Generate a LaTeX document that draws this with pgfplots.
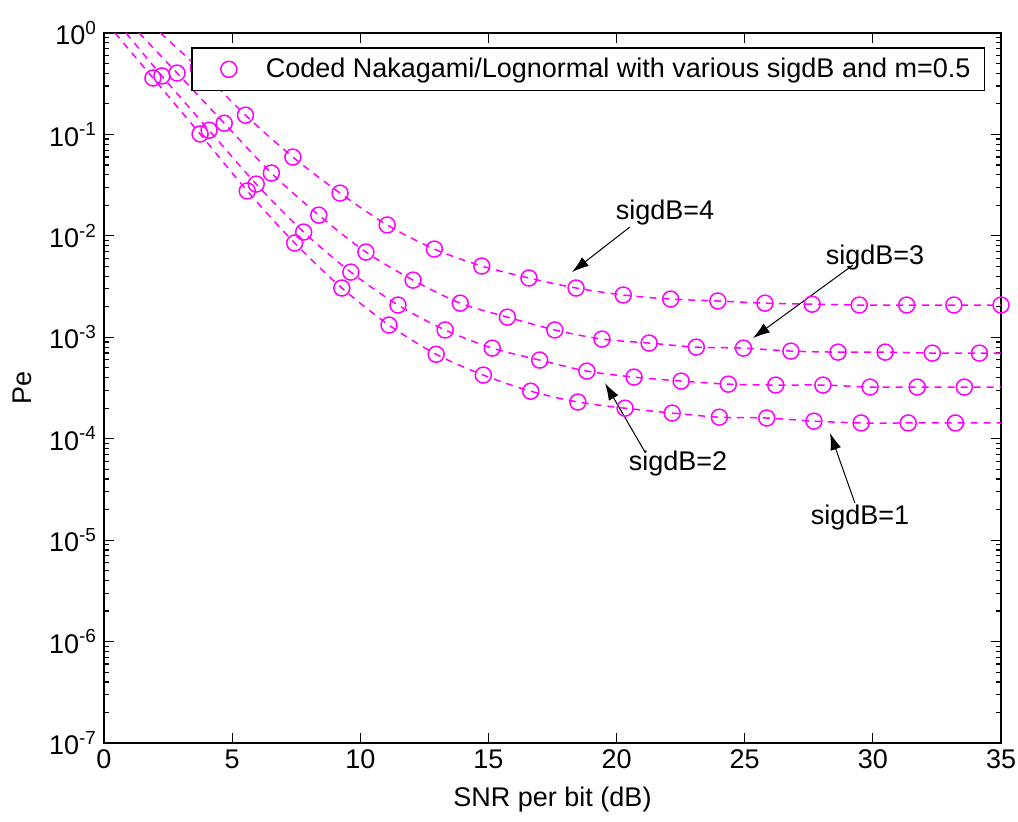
\documentclass[border=0pt]{standalone}
\usepackage{pgfplots}
\pgfplotsset{compat=1.18}
\usepackage{fontspec}
\setmainfont{Liberation Sans}
\usetikzlibrary{arrows.meta}
\definecolor{mag}{RGB}{255,0,255}

\pgfplotstableread{
x y
0.43 1.0
1.91 0.360
3.75 0.101
5.59 0.0277
7.44 8.5e-3
9.28 3.06e-3
11.12 1.32e-3
12.96 6.8e-4
14.80 4.24e-4
16.65 2.94e-4
18.49 2.30e-4
20.33 2.00e-4
22.17 1.79e-4
24.01 1.63e-4
25.86 1.60e-4
27.70 1.49e-4
29.54 1.43e-4
31.38 1.43e-4
33.22 1.43e-4
35.00 1.43e-4
}\sigone

\pgfplotstableread{
x y
0.86 1.0
2.26 0.377
4.10 0.110
5.94 0.0324
7.79 0.0109
9.63 4.39e-3
11.47 2.08e-3
13.31 1.18e-3
15.15 7.82e-4
17.00 5.96e-4
18.84 4.64e-4
20.68 4.05e-4
22.52 3.70e-4
24.36 3.45e-4
26.21 3.38e-4
28.05 3.38e-4
29.89 3.23e-4
31.73 3.23e-4
33.57 3.23e-4
35.00 3.23e-4
}\sigtwo

\pgfplotstableread{
x y
1.37 1.0
2.85 0.403
4.69 0.129
6.53 0.0416
8.38 0.0160
10.22 6.92e-3
12.06 3.66e-3
13.90 2.17e-3
15.74 1.58e-3
17.59 1.18e-3
19.43 9.6e-4
21.27 8.77e-4
23.11 8.0e-4
24.95 7.82e-4
26.80 7.31e-4
28.64 7.14e-4
30.48 7.14e-4
32.32 6.98e-4
34.16 6.98e-4
35.00 6.98e-4
}\sigthree

\pgfplotstableread{
x y
2.20 1.0
3.68 0.452
5.52 0.155
7.37 0.0598
9.21 0.0264
11.05 0.0128
12.89 7.41e-3
14.74 5.04e-3
16.58 3.84e-3
18.42 3.06e-3
20.26 2.61e-3
22.11 2.38e-3
23.95 2.28e-3
25.79 2.17e-3
27.63 2.12e-3
29.47 2.08e-3
31.32 2.08e-3
33.16 2.08e-3
35.00 2.08e-3
}\sigfour

\pgfplotsset{log number format basis/.code 2 args={#1\textsuperscript{\pgfmathprintnumber{#2}}}}

\begin{document}
\begin{tikzpicture}
\begin{axis}[
  scale only axis, width=448.5pt, height=355pt,
  ymode=log, xmin=0, xmax=35, ymin=1e-7, ymax=1,
  xtick={0,5,...,35},
  /pgf/number format/assume math mode=true,
  tick align=inside, major tick length=5pt, minor tick length=2.5pt,
  axis line style={line width=0.8pt},
  every tick/.style={black, line width=0.6pt},
  ticklabel style={font=\fontsize{13.5}{16}\selectfont},
  label style={font=\fontsize{13.5}{16}\selectfont},
  xlabel={SNR per bit (dB)}, ylabel={Pe},
  xlabel style={at={(axis description cs:0.5,-0.080)},anchor=center},
  ylabel style={at={(axis description cs:-0.0915,0.5)},anchor=center},
  legend style={at={(0.097,0.980)},anchor=north west, draw=black, line width=0.8pt,
    font=\fontsize{13.5}{16}\selectfont, inner xsep=5pt, inner ysep=3pt},
  legend cell align=left,
]
\addlegendimage{mag, line width=0.75pt, legend image code/.code={
  \path[draw=none,fill=none] (0pt,0pt) -- (30pt,0pt);
  \draw[mag, line width=0.75pt] (13.5pt,0pt) circle (4pt);}}
\addlegendentry{Coded Nakagami/Lognormal with various sigdB and m=0.5}

\addplot[forget plot, mag, line width=0.75pt, smooth, dash pattern=on 3.5pt off 3pt, mark=o, mark size=4pt,
  mark options={solid}, mark indices={2,...,19}] table {\sigone};
\addplot[forget plot, mag, line width=0.75pt, smooth, dash pattern=on 3.5pt off 3pt, mark=o, mark size=4pt,
  mark options={solid}, mark indices={2,...,19}] table {\sigtwo};
\addplot[forget plot, mag, line width=0.75pt, smooth, dash pattern=on 3.5pt off 3pt, mark=o, mark size=4pt,
  mark options={solid}, mark indices={2,...,19}] table {\sigthree};
\addplot[forget plot, mag, line width=0.75pt, smooth, dash pattern=on 3.5pt off 3pt, mark=o, mark size=4pt,
  mark options={solid}, mark indices={2,...,19}] table {\sigfour};

\draw[-{Latex[length=8.5pt,width=5.5pt]}, black, line width=0.5pt] (axis cs:20.52,0.01222) -- (axis cs:18.26,4.40e-3);
\node[font=\fontsize{13.5}{16}\selectfont] at (axis cs:21.89,0.0168) {sigdB=4};
\draw[-{Latex[length=8.5pt,width=5.5pt]}, black, line width=0.5pt] (axis cs:29.22,5.15e-3) -- (axis cs:25.32,9.82e-4);
\node[font=\fontsize{13.5}{16}\selectfont] at (axis cs:30.08,6.18e-3) {sigdB=3};
\draw[-{Latex[length=8.5pt,width=5.5pt]}, black, line width=0.5pt] (axis cs:21.11,7.38e-5) -- (axis cs:19.55,3.53e-4);
\node[font=\fontsize{13.5}{16}\selectfont] at (axis cs:22.40,5.74e-5) {sigdB=2};
\draw[-{Latex[length=8.5pt,width=5.5pt]}, black, line width=0.5pt] (axis cs:29.30,2.32e-5) -- (axis cs:28.33,1.14e-4);
\node[font=\fontsize{13.5}{16}\selectfont] at (axis cs:29.50,1.69e-5) {sigdB=1};
\end{axis}
\pgfresetboundingbox
\path[use as bounding box] ([xshift=-52pt,yshift=-39pt]current axis.south west) rectangle ([xshift=8.5pt,yshift=16.5pt]current axis.north east);
\end{tikzpicture}
\end{document}
